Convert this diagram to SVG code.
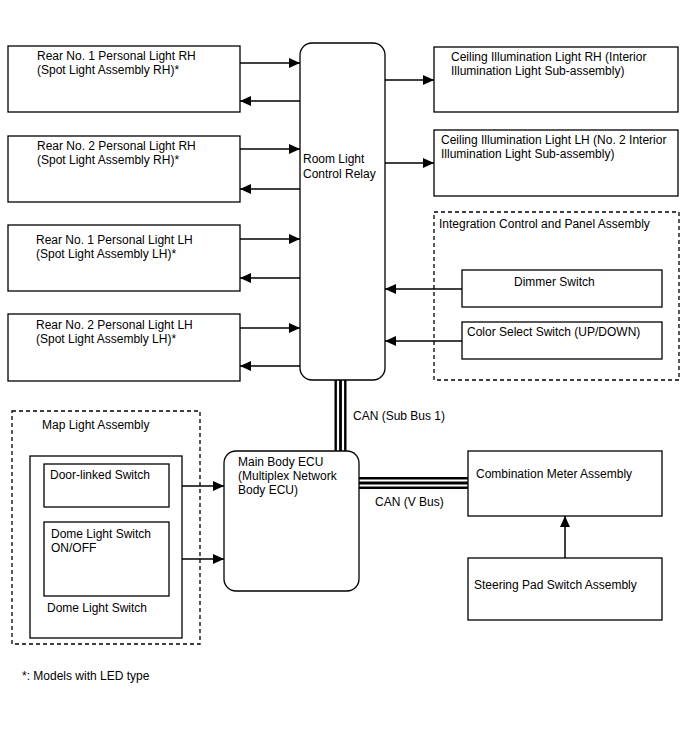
<svg xmlns="http://www.w3.org/2000/svg" width="688" height="755" viewBox="0 0 688 755">
<style>
text{font-family:"Liberation Sans",Arial,sans-serif;font-size:12px;fill:#000}
.box{fill:#fff;stroke:#000;stroke-width:1.3}
.dash{fill:none;stroke:#000;stroke-width:1.3;stroke-dasharray:4,3}
.ar{stroke:#000;stroke-width:1.5;fill:none;marker-end:url(#ah)}
</style>
<defs>
<marker id="ah" markerUnits="userSpaceOnUse" markerWidth="12" markerHeight="10" refX="11" refY="5" orient="auto">
<path d="M0,0 L11,5 L0,10 Z" fill="#000"/>
</marker>
</defs>
<rect width="688" height="755" fill="#fff"/>

<g id="groups">
<rect class="dash" x="434" y="212" width="245" height="168"/>
<text x="439" y="228">Integration Control and Panel Assembly</text>
<rect class="dash" x="12" y="411" width="188" height="233"/>
<text x="42" y="429">Map Light Assembly</text>
</g>

<g id="connectors">
<path class="ar" d="M240,63 H300"/>
<path class="ar" d="M300,101 H240"/>
<path class="ar" d="M240,149 H300"/>
<path class="ar" d="M300,189 H240"/>
<path class="ar" d="M240,239 H300"/>
<path class="ar" d="M300,278 H240"/>
<path class="ar" d="M240,328 H300"/>
<path class="ar" d="M300,366 H240"/>
<path class="ar" d="M385,80 H434"/>
<path class="ar" d="M385,163 H434"/>
<path class="ar" d="M462,289 H385"/>
<path class="ar" d="M462,341 H385"/>
<path class="ar" d="M169,486 H224"/>
<path class="ar" d="M169,559 H224"/>
<path class="ar" d="M565,558 V516"/>
<path d="M340.5,380 V451" stroke="#000" stroke-width="12" fill="none"/>
<path d="M338,380 V451 M343,380 V451" stroke="#fff" stroke-width="2.2" fill="none"/>
<path d="M359,483 H468" stroke="#000" stroke-width="12" fill="none"/>
<path d="M359,480.5 H468 M359,485.5 H468" stroke="#fff" stroke-width="2.2" fill="none"/>
<text x="353" y="420">CAN (Sub Bus 1)</text>
<text x="375" y="506">CAN (V Bus)</text>
</g>

<g id="rear1rh">
<rect class="box" x="8" y="46" width="232" height="66"/>
<text x="37" y="59.5">Rear No. 1 Personal Light RH</text>
<text x="37" y="73.5">(Spot Light Assembly RH)*</text>
</g>
<g id="rear2rh">
<rect class="box" x="8" y="136" width="232" height="66"/>
<text x="37" y="149.5">Rear No. 2 Personal Light RH</text>
<text x="37" y="163.5">(Spot Light Assembly RH)*</text>
</g>
<g id="rear1lh">
<rect class="box" x="8" y="225" width="232" height="66"/>
<text x="36" y="243.5">Rear No. 1 Personal Light LH</text>
<text x="36" y="257.5">(Spot Light Assembly LH)*</text>
</g>
<g id="rear2lh">
<rect class="box" x="8" y="314" width="232" height="67"/>
<text x="36" y="329">Rear No. 2 Personal Light LH</text>
<text x="36" y="343">(Spot Light Assembly LH)*</text>
</g>

<g id="relay">
<rect class="box" x="300" y="43" width="85" height="337" rx="12"/>
<text x="303" y="163">Room Light</text>
<text x="303" y="178">Control Relay</text>
</g>

<g id="ceilrh">
<rect class="box" x="434" y="47" width="244" height="65"/>
<text x="451" y="61">Ceiling Illumination Light RH (Interior</text>
<text x="451" y="75">Illumination Light Sub-assembly)</text>
</g>
<g id="ceillh">
<rect class="box" x="434" y="130" width="244" height="66"/>
<text x="441" y="144">Ceiling Illumination Light LH (No. 2 Interior</text>
<text x="441" y="158">Illumination Light Sub-assembly)</text>
</g>

<g id="dimmer">
<rect class="box" x="462" y="270" width="200" height="37"/>
<text x="514" y="286">Dimmer Switch</text>
</g>
<g id="color">
<rect class="box" x="462" y="322" width="200" height="37"/>
<text x="467" y="336">Color Select Switch (UP/DOWN)</text>
</g>

<g id="domeswitch">
<rect class="box" x="30" y="456" width="152" height="182"/>
<text x="47" y="612">Dome Light Switch</text>
</g>
<g id="doorlinked">
<rect class="box" x="44" y="464" width="125" height="43"/>
<text x="50" y="479">Door-linked Switch</text>
</g>
<g id="domeonoff">
<rect class="box" x="44" y="522" width="125" height="74"/>
<text x="51" y="538">Dome Light Switch</text>
<text x="51" y="552">ON/OFF</text>
</g>

<g id="ecu">
<rect class="box" x="224" y="451" width="135" height="140" rx="12"/>
<text x="238" y="466">Main Body ECU</text>
<text x="238" y="480">(Multiplex Network</text>
<text x="238" y="494">Body ECU)</text>
</g>

<g id="meter">
<rect class="box" x="468" y="451" width="194" height="65"/>
<text x="476" y="478">Combination Meter Assembly</text>
</g>
<g id="steering">
<rect class="box" x="468" y="558" width="194" height="62"/>
<text x="474" y="589">Steering Pad Switch Assembly</text>
</g>

<text x="22" y="680">*: Models with LED type</text>
</svg>
